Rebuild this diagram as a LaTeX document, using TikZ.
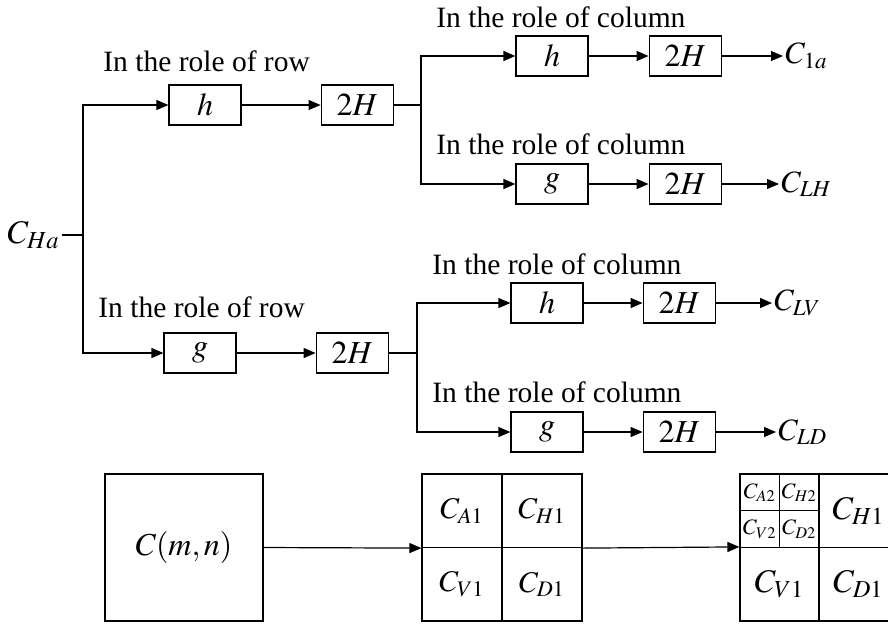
\documentclass[tikz,border=0pt]{standalone}
\usepackage{mathptmx}
\usepackage{fontspec}
\setmainfont{Liberation Serif}
\usetikzlibrary{positioning, arrows.meta}

\begin{document}
\begin{tikzpicture}[x=0.5pt, y=-0.5pt,
    block/.style={rectangle, draw=black, line width=0.6pt, minimum width=36pt,
                  minimum height=20pt, inner sep=0pt,
                  font=\fontsize{16}{18}\selectfont},
    cell/.style={rectangle, draw=black, line width=0.6pt, inner sep=0pt,
                 minimum width=40pt, minimum height=36.75pt,
                 font=\fontsize{15}{18}\selectfont},
    bigcell/.style={cell, minimum width=39.5pt, font=\fontsize{16.5}{19}\selectfont},
    smallcell/.style={cell, minimum width=19.75pt, minimum height=18.375pt,
                      font=\fontsize{11}{13}\selectfont},
    lbl/.style={anchor=base west, inner sep=0pt, font=\fontsize{14.75}{17}\selectfont},
    outlbl/.style={anchor=west, inner sep=1pt, font=\fontsize{15.5}{18}\selectfont},
    arr/.style={-{Triangle[length=6pt, width=5pt]}, line width=0.6pt},
    wire/.style={line width=0.6pt}
]
    \useasboundingbox (0,0) rectangle (888,623);
    \clip (0,0) rectangle (888,623);

    % Input and split
    \node[outlbl, anchor=east, font=\fontsize{16.5}{19}\selectfont] (cha) at (62,235) {$C_{Ha}$};
    \coordinate (s0) at (83,235);

    % Row filtering
    \node[block] (rh) at (205,105) {$h$};
    \node[block, right=39.5pt of rh] (rh2) {$2H$};
    \node[block] (rg) at (200,353) {$g$};
    \node[block, right=39.5pt of rg] (rg2) {$2H$};

    \node[lbl] (row1) at (103,71) {In the role of row};
    \node[lbl] (row2) at (98,317) {In the role of row};

    \draw[wire] (cha.east) -- (s0);
    \draw[arr] (s0) |- (rh);
    \draw[arr] (s0) |- (rg);
    \draw[arr] (rh) -- (rh2);
    \draw[arr] (rg) -- (rg2);

    % Column filtering, upper branch
    \coordinate (s1) at (421,105);
    \node[block] (ch1) at (552,56) {$h$};
    \node[block, right=30pt of ch1] (ch2) {$2H$};
    \node[outlbl] (c1a) at (783,56) {$C_{1a}$};
    \node[block] (cg1) at (552,184) {$g$};
    \node[block, right=30pt of cg1] (cg2) {$2H$};
    \node[outlbl] (clh) at (779,184) {$C_{LH}$};

    \node[lbl] (col1) at (436,27) {In the role of column};
    \node[lbl] (col2) at (436,154) {In the role of column};

    \draw[wire] (rh2) -- (s1);
    \draw[arr] (s1) |- (ch1);
    \draw[arr] (s1) |- (cg1);
    \draw[arr] (ch1) -- (ch2);
    \draw[arr] (ch2) -- (c1a);
    \draw[arr] (cg1) -- (cg2);
    \draw[arr] (cg2) -- (clh);

    % Column filtering, lower branch
    \coordinate (s2) at (417,353);
    \node[block] (ch3) at (547,303) {$h$};
    \node[block, right=29.5pt of ch3] (ch4) {$2H$};
    \node[outlbl] (clv) at (772,303) {$C_{LV}$};
    \node[block] (cg3) at (547,432) {$g$};
    \node[block, right=29.5pt of cg3] (cg4) {$2H$};
    \node[outlbl] (cld) at (776,432) {$C_{LD}$};

    \node[lbl] (col3) at (432,274) {In the role of column};
    \node[lbl] (col4) at (432,402) {In the role of column};

    \draw[wire] (rg2) -- (s2);
    \draw[arr] (s2) |- (ch3);
    \draw[arr] (s2) |- (cg3);
    \draw[arr] (ch3) -- (ch4);
    \draw[arr] (ch4) -- (clv);
    \draw[arr] (cg3) -- (cg4);
    \draw[arr] (cg4) -- (cld);

    % Decomposition levels
    \node[cell, minimum width=79pt, minimum height=73.5pt,
          font=\fontsize{16}{19}\selectfont] (cmn) at (184,547.5) {$C(m,n)$};

    \node[cell] (ma) at (462,510.75) {$C_{A1}$};
    \node[cell] (mh) at (542,510.75) {$C_{H1}$};
    \node[cell] (mv) at (462,584.25) {$C_{V1}$};
    \node[cell] (md) at (542,584.25) {$C_{D1}$};

    \node[smallcell] (ra2) at (759.75,492.375) {$C_{A2}$};
    \node[smallcell] (rh2c) at (799.25,492.375) {$C_{H2}$};
    \node[smallcell] (rv2) at (759.75,529.125) {$C_{V2}$};
    \node[smallcell] (rd2) at (799.25,529.125) {$C_{D2}$};
    \node[bigcell] (rh1) at (858.5,510.75) {$C_{H1}$};
    \node[bigcell] (rv1) at (779.5,584.25) {$C_{V1}$};
    \node[bigcell] (rd1) at (858.5,584.25) {$C_{D1}$};

    \draw[arr] (cmn.east) -- (ma.south west);
    \draw[arr] (mh.south east) -- (rv1.north west);
\end{tikzpicture}
\end{document}
